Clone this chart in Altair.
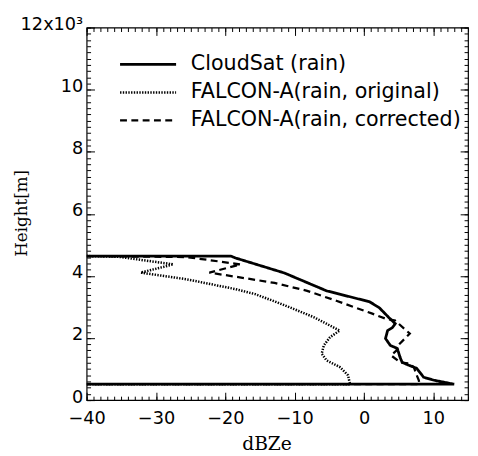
import altair as alt
import pandas as pd

series_names = ["CloudSat (rain)", "FALCON-A(rain, original)", "FALCON-A(rain, corrected)"]

cloudsat_dbz = [-40, -19.2, -18.5, -11.5, -5.4, 0.8, 2.2, 3.6, 4.5, 4.1, 3.4, 3.1, 3.8, 4.8,
                5.2, 5.5, 6.5, 7.6, 8.6, 10.1, 13.0, -40]
cloudsat_height = [4640, 4640, 4576, 4096, 3520, 3168, 2976, 2656, 2464, 2336, 2240, 1984, 1760, 1664,
                   1376, 1216, 1120, 1024, 736, 640, 512, 512]

original_dbz = [-40, -35.5, -27.5, -32.2, -25.6, -18.5, -15.7, -12.9, -10.1, -7.2, -4.9, -3.5,
                -4.9, -5.8, -6.1, -5.4, -3.5, -2.3, -2.1, -2.0, -40]
original_height = [4640, 4620, 4373, 4107, 3893, 3573, 3413, 3180, 2933, 2667, 2400, 2240,
                   2027, 1760, 1493, 1280, 1067, 800, 587, 512, 512]

corrected_dbz = [-40, -25.6, -17.8, -22.3, -12.9, -8.2, -4.0, 1.2, 3.1, 4.5, 6.6, 4.9, 4.7, 3.9,
                 5.2, 6.5, 7.2, 7.6, 7.9, 8.0, -40]
corrected_height = [4640, 4608, 4373, 4107, 3776, 3520, 3200, 2784, 2624, 2560, 2144, 1760, 1600, 1440,
                    1216, 1184, 1056, 800, 640, 512, 512]

x_major = [-40, -30, -20, -10, 0, 10]
x_minor = list(range(-40, 16))
y_major = [0, 2000, 4000, 6000, 8000, 10000, 12000]
y_minor = list(range(0, 12001, 200))

rows = []
for name, xs, ys in zip(series_names,
                        [cloudsat_dbz, original_dbz, corrected_dbz],
                        [cloudsat_height, original_height, corrected_height]):
    for i, (xv, yv) in enumerate(zip(xs, ys)):
        rows.append({"series": name, "dbz": xv, "height": yv, "idx": i})
df = pd.DataFrame(rows)

TICK_FONT = "DejaVu Sans"
TITLE_FONT = "DejaVu Serif"
FS = 18

x_scale = alt.Scale(domain=[-40, 15], nice=False, zero=False)
y_scale = alt.Scale(domain=[0, 12000], nice=False, zero=False)

W, H = 388, 379


def tick_axis(orient, values, size, **kw):
    return alt.Axis(orient=orient, values=values, tickSize=size, offset=-size, domain=False,
                    grid=False, tickColor="black", tickWidth=1, **kw)


x_bottom_major = tick_axis("bottom", x_major, 8, labels=True, title="dBZe", labelFont=TICK_FONT,
                           labelFontSize=FS, labelColor="black", labelPadding=10, labelFlush=False,
                           titleFont=TITLE_FONT, titleFontSize=19, titleFontWeight="normal",
                           titleColor="black", titleX=183, titleY=58, titleAlign="center",
                           titleBaseline="alphabetic")
y_left_major = tick_axis("left", y_major, 8, labels=True, title="Height[m]", labelFont=TICK_FONT,
                         labelFontSize=FS, labelColor="black", labelPadding=4, labelFlush=False,
                         labelOffset=-3,
                         labelExpr="datum.value == 12000 ? '12x10³' : format(datum.value / 1000, 'd')",
                         titleFont=TITLE_FONT, titleFontSize=17, titleFontWeight="normal",
                         titleColor="black", titleX=-74, titleY=H / 2 - 1, titleAngle=270,
                         titleBaseline="middle", titleAlign="center")

legend = alt.Legend(title=None, orient="none", legendX=52, legendY=27,
                    symbolType="M-5.7,0H5.7", symbolSize=100, labelOffset=33, labelLimit=0,
                    labelFont=TICK_FONT, labelFontSize=21, labelColor="black",
                    rowPadding=6.5, symbolStrokeColor="black")

dash_enc = alt.StrokeDash("series:N",
                          scale=alt.Scale(domain=series_names, range=[[1, 0], [1.4, 1.4], [7, 4.5]]),
                          legend=legend)
width_enc = alt.StrokeWidth("series:N",
                            scale=alt.Scale(domain=series_names, range=[2.8, 2.3, 2.8]),
                            legend=legend)

base = alt.Chart(df)

lines = base.mark_line(color="black", clip=True).encode(
    x=alt.X("dbz:Q", scale=x_scale, axis=x_bottom_major),
    y=alt.Y("height:Q", scale=y_scale, axis=y_left_major),
    strokeDash=dash_enc,
    strokeWidth=width_enc,
    order="idx:Q",
)


def ghost(xax, yax):
    return base.mark_line(opacity=0, clip=True).encode(
        x=alt.X("dbz:Q", scale=x_scale, axis=xax),
        y=alt.Y("height:Q", scale=y_scale, axis=yax),
        detail="series:N",
        order="idx:Q",
    )


g1 = ghost(tick_axis("bottom", x_minor, 4, labels=False, title=None),
           tick_axis("left", y_minor, 4, labels=False, title=None))
g2 = ghost(tick_axis("top", x_major, 8, labels=False, title=None),
           tick_axis("right", y_major, 8, labels=False, title=None))
g3 = ghost(tick_axis("top", x_minor, 4, labels=False, title=None),
           tick_axis("right", y_minor, 4, labels=False, title=None))

chart = alt.layer(lines, g1, g2, g3).resolve_axis(
    x="independent", y="independent"
).properties(
    width=W, height=H,
    autosize=alt.AutoSizeParams(type="none"),
    padding={"left": 80, "top": 16, "right": 2, "bottom": 56},
    background="white",
).configure_view(stroke="black", strokeWidth=1.2)

chart.save("out.html", embed_options={"renderer": "svg", "actions": False})
